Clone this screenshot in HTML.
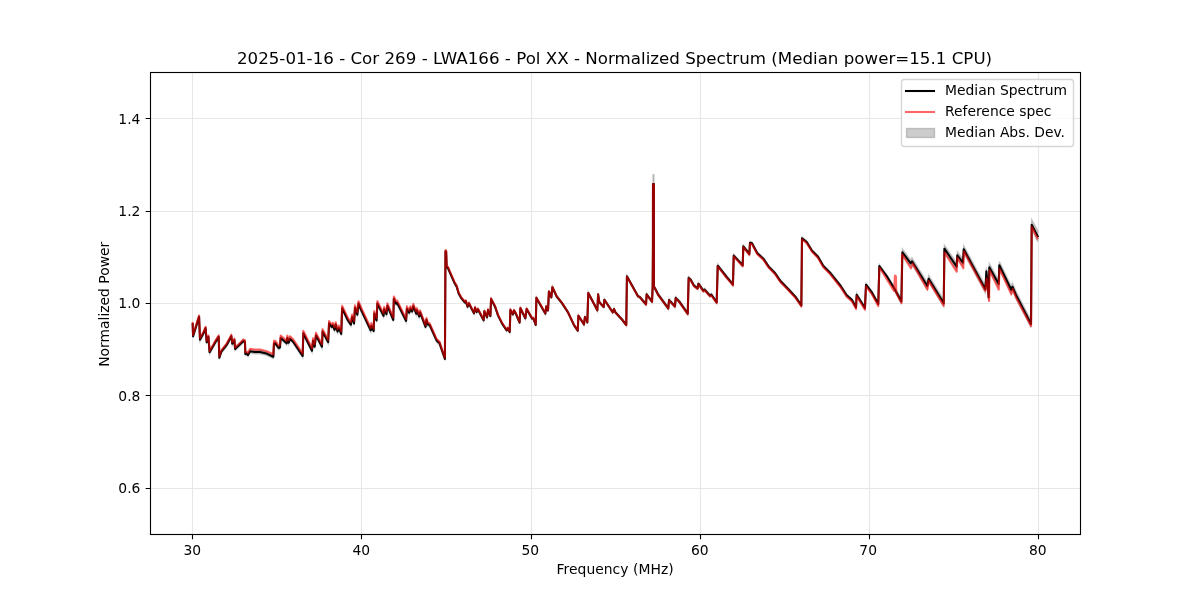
<!DOCTYPE html>
<html lang="en"><head><meta charset="utf-8"><title>Normalized Spectrum</title>
<style>html,body{margin:0;padding:0;background:#fff;}body{width:1200px;height:600px;overflow:hidden;}svg{display:block;}text{font-family:"DejaVu Sans","Liberation Sans",sans-serif;fill:#000;}</style></head><body>
<svg width="1200" height="600" viewBox="0 0 1200 600">
<rect width="1200" height="600" fill="#fff"/>
<defs><clipPath id="ax"><rect x="150" y="72" width="930" height="462"/></clipPath></defs>
<g clip-path="url(#ax)">
<polygon points="192.67,322.4 193.07,334.4 199.07,315.1 200.00,337.8 203.33,331.8 205.60,326.4 206.67,340.4 208.40,335.1 209.60,350.4 215.33,340.4 218.67,335.1 219.33,355.8 221.33,349.8 226.67,343.1 231.33,334.4 232.27,341.8 234.40,338.4 235.07,347.1 240.00,342.4 243.33,339.2 244.93,340.1 245.33,352.1 246.67,351.7 248.00,353.2 250.00,349.5 254.67,350.2 260.00,350.2 266.67,351.8 273.33,354.9 274.00,341.5 275.33,341.5 278.67,346.2 280.00,345.5 280.67,336.2 284.00,338.9 286.67,341.5 287.33,336.2 288.67,340.9 290.00,336.9 293.33,340.2 302.67,354.2 303.33,331.5 312.00,348.9 313.07,338.9 314.67,344.9 316.00,333.5 322.00,344.9 322.57,329.8 328.17,340.3 329.10,321.6 331.67,325.1 332.83,323.4 334.58,328.0 335.75,322.8 337.50,329.8 338.90,326.3 341.23,332.1 342.17,306.4 348.00,318.7 350.92,322.8 352.08,315.2 354.07,321.6 355.00,305.9 357.33,312.9 358.50,301.8 360.83,307.6 370.75,328.6 371.33,323.9 373.67,329.2 374.25,311.7 376.58,318.7 377.40,301.8 383.58,314.0 384.17,307.6 386.50,312.3 387.43,304.1 393.27,318.1 393.85,297.1 396.07,301.8 397.23,301.2 406.10,319.1 406.92,306.9 409.25,310.9 410.42,306.8 412.17,309.6 413.33,304.4 416.25,311.9 416.83,308.4 419.17,314.7 420.10,310.6 425.58,325.1 426.40,318.0 427.92,322.7 429.67,323.2 436.67,338.8 438.42,340.5 439.33,340.9 444.93,357.3 445.47,249.9 446.13,250.0 446.67,265.3 448.00,266.7 454.67,282.1 456.67,285.4 458.67,292.5 461.33,297.2 464.93,301.5 465.73,300.2 467.60,305.8 468.93,302.5 474.00,312.4 475.07,306.8 476.67,311.1 478.00,308.4 483.60,319.3 484.40,310.4 487.07,316.4 488.00,309.1 490.40,315.1 491.07,298.1 495.07,305.7 498.00,314.4 502.00,322.4 506.67,329.4 507.73,327.3 509.73,331.0 510.40,309.0 512.93,313.4 514.00,309.6 516.00,313.0 519.60,321.6 520.40,307.2 525.33,317.3 526.67,308.0 532.00,317.6 533.33,317.3 535.73,324.0 536.40,296.9 545.33,312.6 546.27,305.5 548.00,309.5 548.93,290.6 551.33,296.4 552.40,286.2 556.67,295.5 562.00,302.1 568.00,311.4 574.00,324.1 577.73,329.7 578.40,314.7 584.00,323.4 584.93,316.1 587.07,319.8 587.33,321.4 588.27,292.0 597.33,309.3 598.13,293.3 599.33,301.3 603.73,306.0 604.40,298.7 612.67,311.3 614.00,308.0 615.33,311.3 622.67,319.3 626.27,324.0 626.93,275.3 638.00,295.3 639.73,296.0 646.00,303.3 646.67,293.3 652.00,300.3 652.67,285.5 652.95,246.5 653.00,174.8 653.90,174.8 653.95,285.5 654.67,286.2 658.00,292.8 668.27,306.9 669.07,298.6 674.93,304.9 675.73,296.5 679.33,300.2 687.73,312.2 688.67,276.5 690.67,278.2 694.00,284.2 697.60,286.9 698.40,282.3 703.33,289.3 704.67,288.3 710.00,294.3 711.33,293.4 716.67,301.0 717.73,264.3 726.67,275.6 732.00,281.9 732.93,283.3 733.73,254.3 742.67,264.0 743.33,245.0 749.33,252.7 750.00,241.4 752.00,242.0 757.33,252.0 763.33,257.4 768.67,265.4 774.67,271.4 780.67,280.1 786.00,285.4 795.33,295.5 801.33,304.1 802.00,237.1 806.67,240.8 812.00,249.4 818.00,255.4 823.33,264.7 830.00,271.3 840.67,284.6 846.67,293.9 852.00,298.6 856.00,305.9 856.67,293.2 864.93,306.5 866.00,283.2 872.00,291.2 878.27,302.5 879.33,264.5 886.67,274.4 894.00,286.4 901.33,298.1 902.40,248.9 910.67,259.9 912.00,257.9 927.33,282.5 928.67,275.2 943.73,299.8 944.40,245.1 956.67,263.0 957.33,251.7 962.93,259.0 963.73,245.7 985.33,285.6 986.40,267.6 988.67,293.6 989.33,263.6 998.67,280.2 999.33,261.5 1011.33,286.2 1012.40,282.9 1016.00,291.2 1031.00,320.2 1031.70,219.7 1037.70,230.7 1037.70,241.7 1031.70,229.7 1031.00,327.8 1016.00,298.8 1012.40,290.5 1011.33,293.8 999.33,269.1 998.67,287.8 989.33,271.1 988.67,301.1 986.40,275.1 985.33,293.1 963.73,253.0 962.93,266.3 957.33,259.0 956.67,270.3 944.40,252.2 943.73,306.9 928.67,282.2 927.33,289.5 912.00,264.8 910.67,266.8 902.40,255.7 901.33,304.5 894.00,289.6 886.67,277.6 879.33,267.5 878.27,305.5 872.00,294.2 866.00,286.1 864.93,309.5 856.67,296.1 856.00,308.8 852.00,301.4 846.67,296.7 840.67,287.4 830.00,274.0 823.33,267.3 818.00,257.9 812.00,251.9 806.67,243.2 802.00,239.5 801.33,306.5 795.33,297.9 786.00,287.9 780.67,282.6 774.67,273.9 768.67,267.9 763.33,259.9 757.33,254.6 752.00,244.6 750.00,244.0 749.33,255.3 743.33,247.6 742.67,266.7 733.73,256.9 732.93,286.0 732.00,284.6 726.67,278.4 717.73,267.0 716.67,303.7 711.33,296.1 710.00,297.1 704.67,291.1 703.33,292.1 698.40,285.1 697.60,289.7 694.00,287.1 690.67,281.1 688.67,279.4 687.73,315.1 679.33,303.1 675.73,299.4 674.93,307.8 669.07,301.5 668.27,309.8 658.00,295.8 654.67,289.2 653.95,288.5 653.90,193.4 653.00,193.4 652.95,249.5 652.67,288.5 652.00,303.0 646.67,295.3 646.00,305.3 639.73,298.0 638.00,297.3 626.93,277.3 626.27,326.0 622.67,321.3 615.33,313.3 614.00,310.0 612.67,313.3 604.40,300.7 603.73,308.0 599.33,303.3 598.13,295.3 597.33,311.3 588.27,294.0 587.33,323.4 587.07,321.8 584.93,318.1 584.00,325.4 578.40,316.7 577.73,331.7 574.00,326.1 568.00,313.4 562.00,304.1 556.67,297.5 552.40,288.2 551.33,298.4 548.93,292.6 548.00,311.5 546.27,307.5 545.33,314.6 536.40,298.9 535.73,326.0 533.33,319.3 532.00,319.6 526.67,310.0 525.33,319.3 520.40,309.2 519.60,323.6 516.00,315.0 514.00,311.6 512.93,315.4 510.40,311.0 509.73,333.0 507.73,329.3 506.67,331.4 502.00,324.4 498.00,316.4 495.07,307.7 491.07,300.1 490.40,317.1 488.00,311.1 487.07,318.4 484.40,312.4 483.60,321.3 478.00,310.4 476.67,313.1 475.07,308.8 474.00,314.4 468.93,304.5 467.60,307.8 465.73,302.2 464.93,303.5 461.33,299.2 458.67,294.6 456.67,287.7 454.67,284.5 448.00,269.6 446.67,268.4 446.13,253.1 445.47,253.1 444.93,360.5 439.33,344.5 438.42,344.1 436.67,342.4 429.67,326.8 427.92,326.3 426.40,321.6 425.58,328.7 420.10,314.2 419.17,318.3 416.83,312.0 416.25,315.5 413.33,308.0 412.17,313.2 410.42,310.4 409.25,314.5 406.92,310.5 406.10,322.7 397.23,304.8 396.07,305.4 393.85,300.7 393.27,321.7 387.43,307.7 386.50,315.9 384.17,311.2 383.58,317.6 377.40,305.4 376.58,322.3 374.25,315.3 373.67,332.8 371.33,327.6 370.75,332.2 360.83,311.2 358.50,305.4 357.33,316.5 355.00,309.5 354.07,325.2 352.08,318.8 350.92,326.4 348.00,322.3 342.17,310.1 341.23,335.7 338.90,329.9 337.50,333.4 335.75,326.4 334.58,331.6 332.83,327.0 331.67,328.7 329.10,325.2 328.17,343.9 322.57,333.4 322.00,348.5 316.00,337.1 314.67,348.5 313.07,342.5 312.00,352.5 303.33,335.1 302.67,357.8 293.33,343.8 290.00,340.5 288.67,344.5 287.33,339.8 286.67,345.1 284.00,342.5 280.67,339.8 280.00,349.1 278.67,349.8 275.33,345.1 274.00,345.1 273.33,358.5 266.67,355.4 260.00,353.8 254.67,353.8 250.00,353.1 248.00,356.8 246.67,355.3 245.33,355.7 244.93,343.7 243.33,342.8 240.00,346.0 235.07,350.7 234.40,342.0 232.27,345.4 231.33,338.0 226.67,346.7 221.33,353.4 219.33,359.4 218.67,338.7 215.33,344.0 209.60,354.0 208.40,338.7 206.67,344.0 205.60,330.0 203.33,335.4 200.00,341.4 199.07,318.7 193.07,338.0 192.67,326.0" fill="#808080" fill-opacity="0.4" stroke="#808080" stroke-opacity="0.4" stroke-width="1.39" stroke-linejoin="miter"/>
<path d="M192.5 72.5V534.5M361.5 72.5V534.5M531.5 72.5V534.5M700.5 72.5V534.5M869.5 72.5V534.5M1038.5 72.5V534.5M150.5 488.5H1080.5M150.5 395.5H1080.5M150.5 303.5H1080.5M150.5 211.5H1080.5M150.5 118.5H1080.5" stroke="#b0b0b0" stroke-opacity="0.3" stroke-width="1.11" fill="none"/>
<polyline points="192.67,324.2 193.07,336.2 199.07,316.9 200.00,339.6 203.33,333.6 205.60,328.2 206.67,342.2 208.40,336.9 209.60,352.2 215.33,342.2 218.67,336.9 219.33,357.6 221.33,351.6 226.67,344.9 231.33,336.2 232.27,343.6 234.40,340.2 235.07,348.9 240.00,344.2 243.33,341.0 244.93,341.9 245.33,353.9 246.67,353.5 248.00,355.0 250.00,351.3 254.67,352.0 260.00,352.0 266.67,353.6 273.33,356.7 274.00,343.3 275.33,343.3 278.67,348.0 280.00,347.3 280.67,338.0 284.00,340.7 286.67,343.3 287.33,338.0 288.67,342.7 290.00,338.7 293.33,342.0 302.67,356.0 303.33,333.3 312.00,350.7 313.07,340.7 314.67,346.7 316.00,335.3 322.00,346.7 322.57,331.6 328.17,342.1 329.10,323.4 331.67,326.9 332.83,325.2 334.58,329.8 335.75,324.6 337.50,331.6 338.90,328.1 341.23,333.9 342.17,308.2 348.00,320.5 350.92,324.6 352.08,317.0 354.07,323.4 355.00,307.7 357.33,314.7 358.50,303.6 360.83,309.4 370.75,330.4 371.33,325.8 373.67,331.0 374.25,313.5 376.58,320.5 377.40,303.6 383.58,315.8 384.17,309.4 386.50,314.1 387.43,305.9 393.27,319.9 393.85,298.9 396.07,303.6 397.23,303.0 406.10,320.9 406.92,308.7 409.25,312.7 410.42,308.6 412.17,311.4 413.33,306.2 416.25,313.7 416.83,310.2 419.17,316.5 420.10,312.4 425.58,326.9 426.40,319.8 427.92,324.5 429.67,325.0 436.67,340.6 438.42,342.3 439.33,342.7 444.93,358.9 445.47,251.5 446.13,251.5 446.67,266.8 448.00,268.1 454.67,283.3 456.67,286.6 458.67,293.5 461.33,298.2 464.93,302.5 465.73,301.2 467.60,306.8 468.93,303.5 474.00,313.4 475.07,307.8 476.67,312.1 478.00,309.4 483.60,320.3 484.40,311.4 487.07,317.4 488.00,310.1 490.40,316.1 491.07,299.1 495.07,306.7 498.00,315.4 502.00,323.4 506.67,330.4 507.73,328.3 509.73,332.0 510.40,310.0 512.93,314.4 514.00,310.6 516.00,314.0 519.60,322.6 520.40,308.2 525.33,318.3 526.67,309.0 532.00,318.6 533.33,318.3 535.73,325.0 536.40,297.9 545.33,313.6 546.27,306.5 548.00,310.5 548.93,291.6 551.33,297.4 552.40,287.2 556.67,296.5 562.00,303.1 568.00,312.4 574.00,325.1 577.73,330.7 578.40,315.7 584.00,324.4 584.93,317.1 587.07,320.8 587.33,322.4 588.27,293.0 597.33,310.3 598.13,294.3 599.33,302.3 603.73,307.0 604.40,299.7 612.67,312.3 614.00,309.0 615.33,312.3 622.67,320.3 626.27,325.0 626.93,276.3 638.00,296.3 639.73,297.0 646.00,304.3 646.67,294.3 652.00,301.7 652.67,287.0 652.95,248.0 653.00,184.1 653.90,184.1 653.95,287.0 654.67,287.7 658.00,294.3 668.27,308.3 669.07,300.1 674.93,306.3 675.73,297.9 679.33,301.7 687.73,313.7 688.67,277.9 690.67,279.7 694.00,285.7 697.60,288.3 698.40,283.7 703.33,290.7 704.67,289.7 710.00,295.7 711.33,294.7 716.67,302.3 717.73,265.7 726.67,277.0 732.00,283.3 732.93,284.7 733.73,255.6 742.67,265.3 743.33,246.3 749.33,254.0 750.00,242.7 752.00,243.3 757.33,253.3 763.33,258.7 768.67,266.7 774.67,272.7 780.67,281.3 786.00,286.7 795.33,296.7 801.33,305.3 802.00,238.3 806.67,242.0 812.00,250.7 818.00,256.7 823.33,266.0 830.00,272.7 840.67,286.0 846.67,295.3 852.00,300.0 856.00,307.3 856.67,294.7 864.93,308.0 866.00,284.7 872.00,292.7 878.27,304.0 879.33,266.0 886.67,276.0 894.00,288.0 901.33,301.3 902.40,252.3 910.67,263.3 912.00,261.3 927.33,286.0 928.67,278.7 943.73,303.3 944.40,248.7 956.67,266.7 957.33,255.3 962.93,262.7 963.73,249.3 985.33,289.3 986.40,271.3 988.67,297.3 989.33,267.3 998.67,284.0 999.33,265.3 1011.33,290.0 1012.40,286.7 1016.00,295.0 1031.00,324.0 1031.70,224.7 1037.70,236.2" fill="none" stroke="#000" stroke-width="2.083" stroke-linejoin="round" stroke-linecap="square"/>
<polyline points="192.67,322.9 193.07,334.9 199.07,315.6 200.00,338.3 203.33,332.3 205.60,326.9 206.67,340.9 208.40,335.6 209.60,350.9 215.33,340.9 218.67,335.6 219.33,356.3 221.33,350.3 226.67,343.6 231.33,334.9 232.27,342.3 234.40,338.9 235.07,347.6 240.00,342.9 243.33,339.6 244.93,340.3 245.33,352.3 246.67,351.6 248.00,352.9 250.00,348.9 254.67,349.6 260.00,349.6 266.67,351.2 273.33,354.3 274.00,340.9 275.33,340.9 278.67,345.6 280.00,344.9 280.67,335.6 284.00,338.3 286.67,340.9 287.33,335.6 288.67,340.3 290.00,336.3 293.33,339.6 302.67,353.6 303.33,330.9 312.00,348.3 313.07,338.3 314.67,344.3 316.00,332.9 322.00,344.3 322.57,329.2 328.17,339.7 329.10,321.0 331.67,324.5 332.83,322.8 334.58,327.4 335.75,322.2 337.50,329.2 338.90,325.7 341.23,331.5 342.17,305.9 348.00,318.1 350.92,322.2 352.08,314.6 354.07,321.0 355.00,305.3 357.33,312.3 358.50,301.2 360.83,307.0 370.75,328.0 371.33,323.4 373.67,328.6 374.25,311.1 376.58,318.1 377.40,301.2 383.58,313.4 384.17,307.0 386.50,311.7 387.43,303.5 393.27,317.5 393.85,296.5 396.07,301.2 397.23,300.6 406.10,318.7 406.92,306.4 409.25,310.5 410.42,306.4 412.17,309.3 413.33,304.1 416.25,311.7 416.83,308.2 419.17,314.6 420.10,310.5 425.58,325.1 426.40,318.1 427.92,322.8 429.67,323.3 436.67,339.1 438.42,340.8 439.33,341.3 444.93,357.7 445.47,250.3 446.13,250.3 446.67,265.6 448.00,266.9 454.67,282.3 456.67,285.6 458.67,292.6 461.33,297.3 464.93,301.7 465.73,300.3 467.60,306.0 468.93,302.6 474.00,312.6 475.07,307.0 476.67,311.3 478.00,308.7 483.60,319.6 484.40,310.7 487.07,316.7 488.00,309.3 490.40,315.4 491.07,298.4 495.07,306.0 498.00,314.7 502.00,322.7 506.67,329.8 507.73,327.7 509.73,331.4 510.40,309.4 512.93,313.8 514.00,310.1 516.00,313.4 519.60,322.1 520.40,307.7 525.33,317.9 526.67,308.5 532.00,318.1 533.33,317.9 535.73,324.5 536.40,297.5 545.33,313.2 546.27,306.2 548.00,310.2 548.93,291.3 551.33,297.1 552.40,286.9 556.67,296.2 562.00,302.9 568.00,312.2 574.00,324.9 577.73,330.5 578.40,315.6 584.00,324.3 584.93,317.0 587.07,320.7 587.33,322.3 588.27,293.0 597.33,310.3 598.13,294.3 599.33,302.3 603.73,307.0 604.40,299.7 612.67,312.4 614.00,309.1 615.33,312.4 622.67,320.4 626.27,325.1 626.93,276.5 638.00,296.5 639.73,297.2 646.00,304.6 646.67,294.6 652.00,301.9 652.67,287.3 652.95,248.3 653.00,184.4 653.90,184.4 653.95,287.3 654.67,287.9 658.00,294.6 668.27,308.7 669.07,300.4 674.93,306.7 675.73,298.3 679.33,302.1 687.73,314.2 688.67,278.4 690.67,280.2 694.00,286.2 697.60,288.9 698.40,284.2 703.33,291.3 704.67,290.3 710.00,296.3 711.33,295.4 716.67,303.0 717.73,266.4 726.67,277.8 732.00,284.1 732.93,285.5 733.73,256.4 742.67,266.2 743.33,247.1 749.33,254.9 750.00,243.6 752.00,244.2 757.33,254.3 763.33,259.6 768.67,267.6 774.67,273.7 780.67,282.4 786.00,287.7 795.33,297.7 801.33,306.4 802.00,239.4 806.67,243.1 812.00,251.8 818.00,257.9 823.33,267.3 830.00,274.0 840.67,287.4 846.67,296.7 852.00,301.4 856.00,308.8 856.67,296.1 864.93,309.6 866.00,286.3 872.00,294.5 878.27,306.0 879.33,268.0 880.00,268.3 894.00,290.9 894.93,275.6 896.00,276.3 896.27,292.9 901.60,302.9 902.00,254.3 910.93,268.3 912.67,263.6 927.33,289.6 928.67,280.9 943.73,305.6 944.40,252.3 956.67,271.6 957.33,257.6 963.33,268.3 964.00,251.6 985.33,290.9 986.67,278.3 989.07,300.9 989.60,270.3 998.67,289.6 999.60,268.9 1011.33,294.3 1012.67,288.9 1016.00,297.4 1031.10,326.0 1031.70,226.7 1037.50,238.3" fill="none" stroke="#f00" stroke-opacity="0.6" stroke-width="2.083" stroke-linejoin="round" stroke-linecap="square"/>
</g>
<path d="M192.5 534.5v4.86M361.5 534.5v4.86M531.5 534.5v4.86M700.5 534.5v4.86M869.5 534.5v4.86M1038.5 534.5v4.86M150.5 488.5h-4.86M150.5 395.5h-4.86M150.5 303.5h-4.86M150.5 211.5h-4.86M150.5 118.5h-4.86" stroke="#000" stroke-width="1.11" fill="none"/>
<rect x="150.5" y="72.5" width="930.0" height="462.0" fill="none" stroke="#000" stroke-width="1.11"/>
<text x="192.34" y="555" font-size="13.889" text-anchor="middle">30</text>
<text x="361.25" y="555" font-size="13.889" text-anchor="middle">40</text>
<text x="530.26" y="555" font-size="13.889" text-anchor="middle">50</text>
<text x="699.85" y="555" font-size="13.889" text-anchor="middle">60</text>
<text x="868.16" y="555" font-size="13.889" text-anchor="middle">70</text>
<text x="1037.86" y="555" font-size="13.889" text-anchor="middle">80</text>
<text x="140.4" y="493.3" font-size="13.889" text-anchor="end">0.6</text>
<text x="140.4" y="401.3" font-size="13.889" text-anchor="end">0.8</text>
<text x="140.4" y="308.3" font-size="13.889" text-anchor="end">1.0</text>
<text x="140.4" y="216.3" font-size="13.889" text-anchor="end">1.2</text>
<text x="140.4" y="124.3" font-size="13.889" text-anchor="end">1.4</text>
<text x="556.5" y="574" font-size="13.889" textLength="117.2" lengthAdjust="spacing">Frequency (MHz)</text>
<text transform="translate(109.3 304.25) rotate(-90)" font-size="13.889" text-anchor="middle">Normalized Power</text>
<text x="236.9" y="63.7" font-size="16.667" textLength="755.2" lengthAdjust="spacing">2025-01-16 - Cor 269 - LWA166 - Pol XX - Normalized Spectrum (Median power=15.1 CPU)</text>
<rect x="901.5" y="79.5" width="172" height="67" rx="2.8" ry="2.8" fill="#fff" fill-opacity="0.8" stroke="#ccc" stroke-opacity="0.8" stroke-width="1.39"/>
<path d="M906 91H934" stroke="#000" stroke-width="2.083" stroke-linecap="square" fill="none"/>
<path d="M906 112H934" stroke="#f00" stroke-opacity="0.6" stroke-width="2.083" stroke-linecap="square" fill="none"/>
<rect x="906.5" y="128.5" width="28" height="9" fill="#808080" fill-opacity="0.4" stroke="#808080" stroke-opacity="0.4" stroke-width="1.39"/>
<text x="945" y="95" font-size="13.889">Median Spectrum</text>
<text x="945" y="116" font-size="13.889">Reference spec</text>
<text x="945" y="137" font-size="13.889">Median Abs. Dev.</text>
</svg></body></html>
